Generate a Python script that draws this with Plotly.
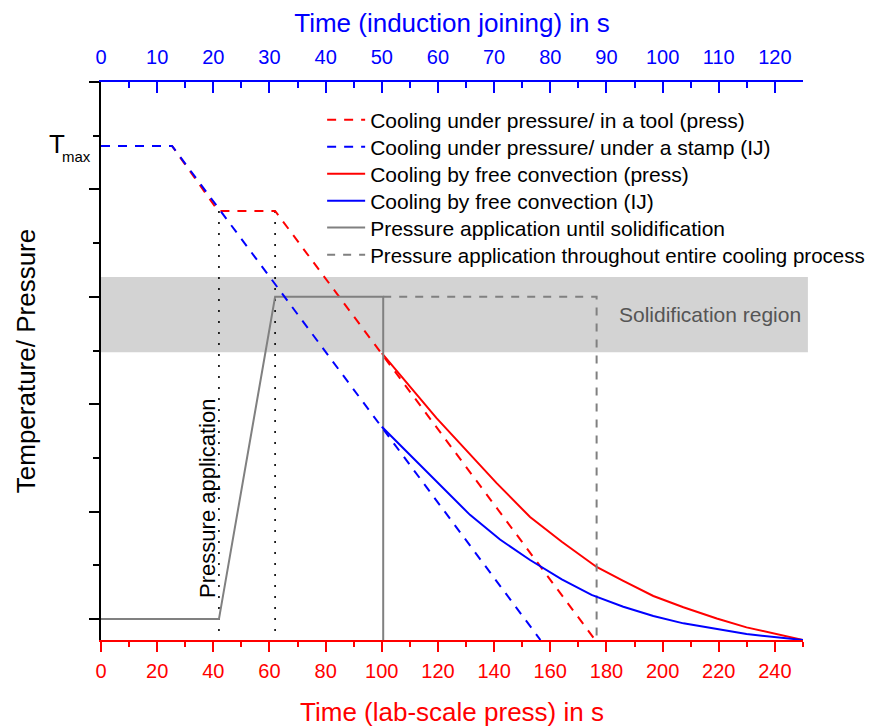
import plotly.graph_objects as go

# ---------------- data (time in s of the lab-scale press, bottom axis) ----------------
# Temperature / pressure in arbitrary units (y-axis tick spacing = 1)
press_tool_t = [0, 25.3, 41.7, 62.0, 176.0]
press_tool_y = [8.81, 8.81, 7.60, 7.60, -0.39]

# IJ curves given in induction joining time (top axis)
ij_stamp_t = [0, 12.65, 78.25]
ij_stamp_y = [8.81, 8.81, -0.39]

press_conv_t = [100.0, 119.5, 140.9, 152.8, 164.1, 176.5, 186.0, 196.7, 207.4, 219.3, 229.9, 250.0]
press_conv_y = [4.95, 3.74, 2.53, 1.90, 1.44, 0.97, 0.71, 0.43, 0.22, 0.01, -0.155, -0.39]

ij_conv_t = [50.0, 59.75, 65.7, 71.05, 76.4, 82.05, 87.35, 93.0, 98.35, 103.7, 109.65, 114.95, 125.0]
ij_conv_y = [3.58, 2.56, 1.94, 1.48, 1.10, 0.74, 0.45, 0.23, 0.056, -0.08, -0.19, -0.28, -0.39]

p_until_t = [0, 42.0, 62.0, 100.5, 100.5]
p_until_y = [0, 0, 6.0, 6.0, -0.39]

p_entire_t = [100.5, 176.5, 176.5]
p_entire_y = [6.0, 6.0, -0.39]

marker_t = [42.0, 62.0]          # dotted guide lines (pressure application)
marker_top = 7.60
axis_floor = -0.39

solid_lo, solid_hi = 4.97, 6.37   # solidification region

bottom_ticks = list(range(0, 241, 20))
top_ticks = list(range(0, 121, 10))

legend_names = [
    "Cooling under pressure/ in a tool (press)",
    "Cooling under pressure/ under a stamp (IJ)",
    "Cooling by free convection (press)",
    "Cooling by free convection (IJ)",
    "Pressure application until solidification",
    "Pressure application throughout entire cooling process",
]

RED = "#FF0000"
BLUE = "#0000FF"
GRAY = "#808080"
FONT = "Arial, Liberation Sans, sans-serif"

fig = go.Figure()

# dotted guide lines
for i, t in enumerate(marker_t):
    fig.add_trace(go.Scatter(x=[t, t], y=[marker_top, axis_floor], mode="lines",
                             line=dict(color="black", width=1.6, dash="2px,9px"),
                             showlegend=False, hoverinfo="skip"))

legend_ids = ["legend", "legend2", "legend3", "legend4", "legend5", "legend6"]

fig.add_trace(go.Scatter(x=press_tool_t, y=press_tool_y, mode="lines", name=legend_names[0],
                         legend=legend_ids[0], line=dict(color=RED, width=2, dash="9px,8px")))
fig.add_trace(go.Scatter(x=ij_stamp_t, y=ij_stamp_y, mode="lines", name=legend_names[1],
                         legend=legend_ids[1], xaxis="x2",
                         line=dict(color=BLUE, width=2, dash="9px,8px")))
fig.add_trace(go.Scatter(x=press_conv_t, y=press_conv_y, mode="lines", name=legend_names[2],
                         legend=legend_ids[2], line=dict(color=RED, width=2)))
fig.add_trace(go.Scatter(x=ij_conv_t, y=ij_conv_y, mode="lines", name=legend_names[3],
                         legend=legend_ids[3], xaxis="x2", line=dict(color=BLUE, width=2)))
fig.add_trace(go.Scatter(x=p_until_t, y=p_until_y, mode="lines", name=legend_names[4],
                         legend=legend_ids[4], line=dict(color=GRAY, width=2)))
fig.add_trace(go.Scatter(x=p_entire_t, y=p_entire_y, mode="lines", name=legend_names[5],
                         legend=legend_ids[5], line=dict(color=GRAY, width=2, dash="8px,8px")))

fig.add_shape(type="rect", xref="paper", yref="y", x0=0, x1=1.007, y0=solid_lo, y1=solid_hi,
              fillcolor="#D3D3D3", line=dict(width=0), layer="below")

fig.add_annotation(text="Solidification region", xref="x", yref="y", x=217, y=(solid_lo + solid_hi) / 2,
                   showarrow=False, font=dict(family=FONT, size=21, color="#555555"))
fig.add_annotation(text="Pressure application", xref="x", yref="y", x=38, y=2.25, textangle=-90,
                   showarrow=False, font=dict(family=FONT, size=22, color="black"))
fig.add_annotation(text="T", xref="paper", yref="y", x=0, y=8.85, xanchor="right",
                   xshift=-34, showarrow=False, font=dict(family=FONT, size=26, color="black"))
fig.add_annotation(text="max", xref="paper", yref="y", x=0, y=8.62, xanchor="right",
                   xshift=-8, showarrow=False, font=dict(family=FONT, size=15, color="black"))

# one legend per entry so the row pitch matches the reference
row_y = [0.9319, 0.8835, 0.8351, 0.7867, 0.7384, 0.6900]
row_font = [21, 21, 21, 21, 21, 20.5]
legend_layout = {}
for lid, ry, fs in zip(legend_ids, row_y, row_font):
    legend_layout[lid] = dict(x=0.315, y=ry, xanchor="left", yanchor="middle",
                              bgcolor="rgba(0,0,0,0)", itemwidth=38,
                              font=dict(family=FONT, size=fs, color="black"))

fig.update_layout(
    width=881, height=727,
    margin=dict(l=93, r=86, t=74, b=95, autoexpand=False),
    paper_bgcolor="white", plot_bgcolor="white",
    font=dict(family=FONT, color="black"),
    xaxis=dict(range=[0, 250], tickvals=bottom_ticks, showgrid=False, zeroline=False,
               showline=True, linecolor=RED, linewidth=2, ticks="outside", ticklen=10,
               tickwidth=2, tickcolor=RED, tickfont=dict(family=FONT, size=20, color=RED),
               ticklabelstandoff=2, automargin=False,
               minor=dict(ticks="outside", ticklen=5, tickwidth=2, tickcolor=RED, dtick=10, tick0=0),
               title=dict(text="Time (lab-scale press) in s", font=dict(family=FONT, size=26, color=RED),
                          standoff=22)),
    xaxis2=dict(range=[0, 125], overlaying="x", side="top", anchor="y", tickvals=top_ticks,
                showgrid=False, zeroline=False, showline=True, linecolor=BLUE, linewidth=2,
                ticks="inside", ticklen=11, tickwidth=2, tickcolor=BLUE,
                tickfont=dict(family=FONT, size=20, color=BLUE), ticklabelstandoff=8, automargin=False,
                minor=dict(ticks="inside", ticklen=6, tickwidth=2, tickcolor=BLUE, dtick=5, tick0=0),
                title=dict(text="Time (induction joining) in s", font=dict(family=FONT, size=26, color=BLUE),
                           standoff=12)),
    yaxis=dict(range=[-0.39, 10], tickvals=[0, 2, 4, 6, 8, 10], ticktext=[""] * 6,
               showgrid=False, zeroline=False, showline=True, linecolor="black", linewidth=2,
               ticks="outside", ticklen=10, tickwidth=2, tickcolor="black", automargin=False,
               minor=dict(ticks="outside", ticklen=6, tickwidth=2, tickcolor="black",
                          tickvals=[1, 3, 5, 7, 9]),
               title=dict(text="Temperature/ Pressure", font=dict(family=FONT, size=26, color="black"),
                          standoff=44)),
    **legend_layout,
)

fig.write_html("out.html")
